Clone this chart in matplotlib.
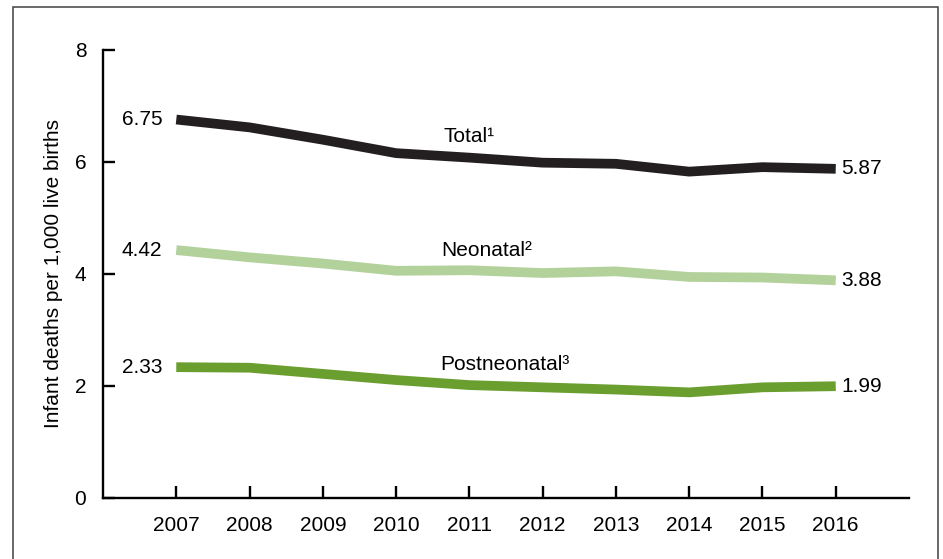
import matplotlib
matplotlib.use("Agg")
import matplotlib.pyplot as plt
from matplotlib.patches import Rectangle

plt.rcParams['font.family'] = ['Liberation Sans', 'DejaVu Sans']

years = [2007, 2008, 2009, 2010, 2011, 2012, 2013, 2014, 2015, 2016]
total = [6.75, 6.61, 6.39, 6.15, 6.07, 5.98, 5.96, 5.82, 5.90, 5.87]
neonatal = [4.42, 4.29, 4.18, 4.05, 4.06, 4.01, 4.04, 3.94, 3.93, 3.88]
postneonatal = [2.33, 2.32, 2.21, 2.10, 2.01, 1.97, 1.93, 1.88, 1.97, 1.99]
series_names = ["Total\u00b9", "Neonatal\u00b2", "Postneonatal\u00b3"]
colors = ["#231f20", "#b3d19b", "#6a9e2e"]
yticks = [0, 2, 4, 6, 8]

W, H = 943, 559
fig = plt.figure(figsize=(W / 100, H / 100), dpi=100)
ax = fig.add_axes([103 / W, 1 - 497.7 / H, (909 - 103) / W, (497.7 - 49.5) / H])

fs = 15
series = [total, neonatal, postneonatal]
label_pos = [(2010.65, 6.44), (2010.62, 4.41), (2010.6, 2.37)]
for vals, name, c, (lx, ly) in zip(series, series_names, colors, label_pos):
    ax.plot(years, vals, color=c, lw=7, solid_capstyle='butt', solid_joinstyle='round')
    ax.annotate(f"{vals[0]:.2f}", (years[0], vals[0]), xytext=(-10, 0),
                textcoords='offset points', ha='right', va='center', fontsize=fs)
    ax.annotate(f"{vals[-1]:.2f}", (years[-1], vals[-1]), xytext=(4, 0),
                textcoords='offset points', ha='left', va='center', fontsize=fs)
    ax.text(lx, ly, name, ha='left', va='center', fontsize=fs)

ax.set_xlim(2006, 2017)
ax.set_ylim(0, 8)
ax.set_xticks(years)
ax.set_xticklabels([str(y) for y in years], fontsize=fs)
ax.set_yticks(yticks)
ax.set_yticklabels([str(t) for t in yticks], fontsize=fs)
ax.tick_params(direction='in', length=8.6, width=1.7, color='black')
ax.tick_params(axis='x', pad=13)
ax.tick_params(axis='y', pad=12)
for s in ['top', 'right']:
    ax.spines[s].set_visible(False)
for s in ['left', 'bottom']:
    ax.spines[s].set_linewidth(1.7)
    ax.spines[s].set_color('black')

fig.text(54 / W, 1 - 274 / H, "Infant deaths per 1,000 live births", rotation=90,
         ha='center', va='center', fontsize=fs)

fig.patches.append(Rectangle((12.5 / W, -0.1), (938 - 12.5) / W, 1.1 - 7.5 / H,
                             transform=fig.transFigure, fill=False,
                             edgecolor='#404040', lw=1.1))

fig.savefig("out.png", dpi=100)
